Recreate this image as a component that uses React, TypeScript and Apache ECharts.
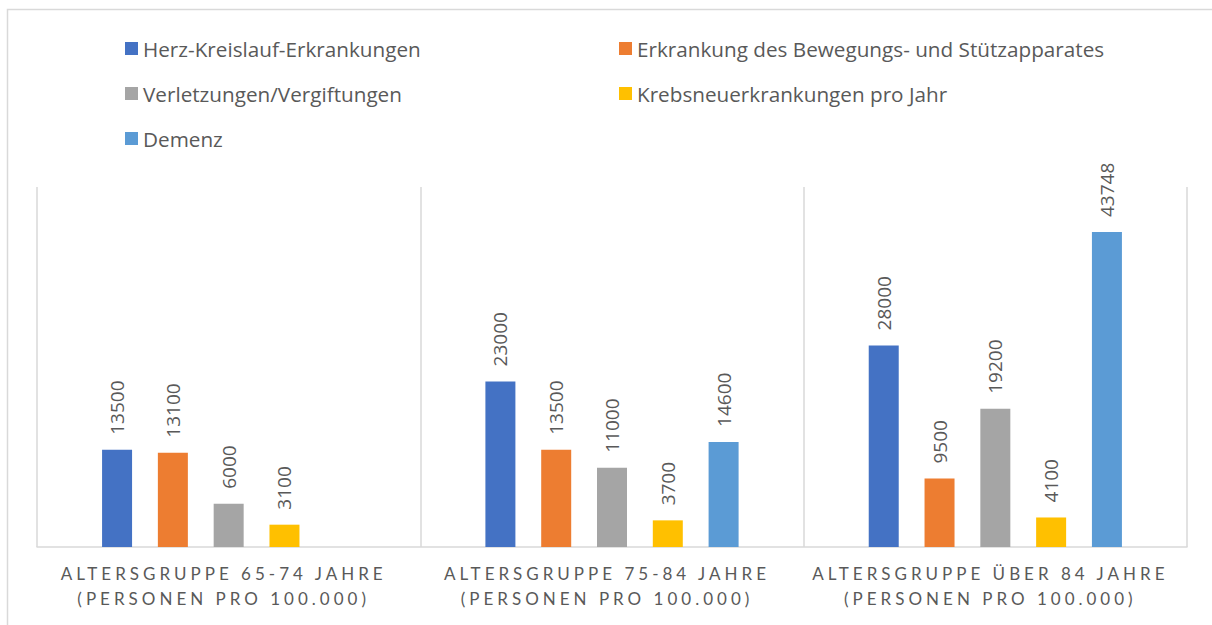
import React, { useEffect, useRef } from "react";
import * as echarts from "echarts";

const categories = [
  "ALTERSGRUPPE 65-74 JAHRE\n(PERSONEN PRO 100.000)",
  "ALTERSGRUPPE 75-84 JAHRE\n(PERSONEN PRO 100.000)",
  "ALTERSGRUPPE ÜBER 84 JAHRE\n(PERSONEN PRO 100.000)",
];
const seriesNames = [
  "Herz-Kreislauf-Erkrankungen",
  "Erkrankung des Bewegungs- und Stützapparates",
  "Verletzungen/Vergiftungen",
  "Krebsneuerkrankungen pro Jahr",
  "Demenz",
];
const herzKreislauf = [13500, 23000, 28000];
const bewegung = [13100, 13500, 9500];
const verletzungen = [6000, 11000, 19200];
const krebs = [3100, 3700, 4100];
const demenz = [null, 14600, 43748];
const colors = ["#4472C4", "#ED7D31", "#A5A5A5", "#FFC000", "#5B9BD5"];

const TEXT = "#595959";
const FONT = "Open Sans";

export default function App() {
  const ref = useRef<HTMLDivElement>(null);
  useEffect(() => {
    const chart = echarts.init(ref.current!, null, { renderer: "svg" });
    const data = [herzKreislauf, bewegung, verletzungen, krebs, demenz];
    const legendPos = [
      { left: 125, top: 38 },
      { left: 619, top: 38 },
      { left: 125, top: 83 },
      { left: 619, top: 83 },
      { left: 125, top: 128 },
    ];
    chart.setOption({
      animation: false,
      textStyle: { fontFamily: FONT, color: TEXT },
      graphic: [
        {
          type: "rect",
          shape: { x: 7.5, y: 9.5, width: 1240, height: 700 },
          style: { fill: "none", stroke: "#D9D9D9", lineWidth: 1.5 },
          silent: true,
        },
      ],
      legend: seriesNames.map((n, i) => ({
        data: [n],
        left: legendPos[i].left,
        top: legendPos[i].top,
        padding: 0,
        icon: "rect",
        itemWidth: 13,
        itemHeight: 13,
        selectedMode: false,
        textStyle: { fontFamily: FONT, fontSize: 20.7, color: TEXT },
      })),
      grid: { left: 37, right: 25, top: 187, bottom: 78, containLabel: false },
      xAxis: {
        type: "category",
        data: categories,
        axisLine: { lineStyle: { color: "#D9D9D9", width: 1.5 } },
        axisTick: { show: false },
        splitLine: { show: true, lineStyle: { color: "#D9D9D9", width: 1.5 } },
        axisLabel: {
          interval: 0,
          margin: 14,
          fontFamily: "Lato",
          fontSize: 17,
          lineHeight: 25,
          padding: [0, 10, 0, 0],
          color: TEXT,
        },
      },
      yAxis: {
        type: "value",
        min: 0,
        max: 50000,
        show: false,
        splitLine: { show: false },
      },
      series: seriesNames.map((n, i) => ({
        name: n,
        type: "bar",
        data: data[i],
        barWidth: 30,
        barGap: "86%",
        itemStyle: { color: colors[i] },
        label: {
          show: true,
          position: "top",
          rotate: 90,
          align: "left",
          verticalAlign: "middle",
          distance: 15,
          fontFamily: FONT,
          fontSize: 19,
          color: TEXT,
        },
      })),
    });
    return () => chart.dispose();
  }, []);
  return (
    <>
      <style>{`text[style*="Lato"]{letter-spacing:4px;}`}</style>
      <div
        ref={ref}
        style={{ position: "absolute", left: 0, top: 0, width: 1212, height: 625 }}
      />
    </>
  );
}
